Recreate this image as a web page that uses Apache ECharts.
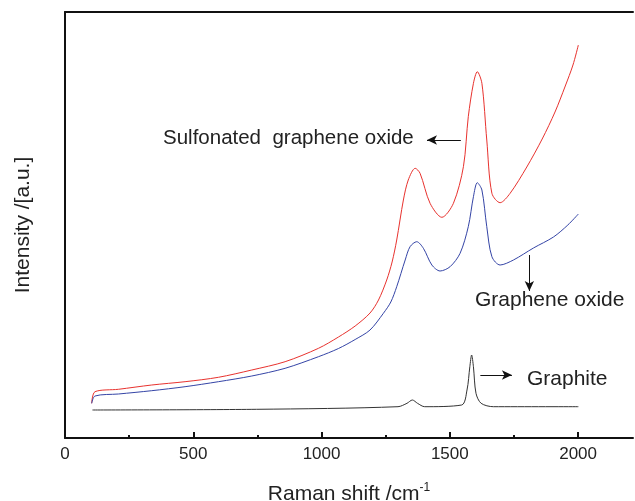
<!DOCTYPE html>
<html>
<head>
<meta charset="utf-8">
<title>Raman spectra</title>
<script src="https://cdn.jsdelivr.net/npm/echarts@6.0.0/dist/echarts.min.js"></script>
<style>
    html, body { margin: 0; padding: 0; background: #fff; }
    #raman_chart { width: 635px; height: 501px; }
</style>
</head>
<body>
<div id="raman_chart"></div>
<script>
// Raman shift (cm-1) and intensity (a.u.)
var sgoShift = [104, 117, 208, 338, 468, 598, 728, 858, 988, 1066, 1131, 1189, 1222, 1254, 1275, 1293, 1319, 1338, 1365, 1384, 1423, 1469, 1514, 1553, 1572, 1592, 1607, 1625, 1644, 1664, 1696, 1735, 1800, 1860, 1910, 1950, 1980, 2001];
var sgoIntensity = [34.7, 46.3, 48.7, 53, 56.3, 60.7, 68, 76.3, 89.7, 101, 112, 125, 138, 158, 176, 198, 238, 258, 269.7, 264.7, 234.7, 220.7, 234.7, 271.3, 321.3, 354.7, 366.3, 354.7, 298, 244.7, 235.3, 244.7, 271, 299, 326, 352, 373, 393];

var goShift = [104, 117, 208, 338, 468, 598, 728, 858, 988, 1066, 1131, 1189, 1241, 1270, 1293, 1326, 1345, 1371, 1397, 1430, 1462, 1501, 1540, 1572, 1592, 1607, 1625, 1644, 1664, 1696, 1748, 1826, 1904, 1960, 2001];
var goIntensity = [34.7, 42, 44, 47.3, 51.3, 56.3, 62, 69.7, 81.3, 89.5, 98.5, 108, 124.7, 136, 151.3, 178, 191.3, 196.3, 189.7, 173, 167, 171.3, 184.7, 211.3, 241.3, 255.3, 248, 211.3, 181.3, 173, 178, 190, 201, 213, 224];

var graphiteShift = [107, 747, 1298, 1333, 1354, 1374, 1402, 1546, 1567, 1578, 1585, 1592, 1602, 1622, 1670, 2001];
var graphiteIntensity = [28, 28.7, 31.3, 34.7, 38, 34.7, 31.3, 33, 48, 71.3, 83, 71.3, 44.7, 34.7, 31.3, 31.3];

var majorTicks = [0, 500, 1000, 1500, 2000];
var minorTicks = [250, 750, 1250, 1750];

function pairs(xs, ys) {
    var out = [];
    for (var i = 0; i < xs.length; i++) {
        out.push([xs[i], ys[i]]);
    }
    return out;
}

// black arrow pointing from the first point to the second
function arrow(from, to) {
    return {
        silent: true,
        symbol: ['none', 'arrow'],
        symbolSize: [7, 10],
        label: {show: false},
        lineStyle: {color: '#111', width: 1, type: 'solid'},
        data: [[{coord: from}, {coord: to}]]
    };
}

var chart = echarts.init(document.getElementById('raman_chart'));
var font = 'Liberation Sans, Arial, sans-serif';
var axisLine = {show: true, lineStyle: {color: '#111', width: 2}};

var option = {
    animation: false,
    backgroundColor: '#fff',
    grid: {left: 65, right: 2, top: 12, bottom: 63, outerBoundsMode: 'none'},
    xAxis: [
        {
            type: 'value', min: 0, max: 2214, position: 'bottom',
            axisLine: axisLine,
            axisTick: {show: true, inside: true, length: 6, customValues: majorTicks,
                lineStyle: {color: '#111', width: 2}},
            axisLabel: {show: true, customValues: majorTicks, margin: 8,
                fontFamily: font, fontSize: 17, color: '#222',
                formatter: function (v) { return String(v); }},
            splitLine: {show: false},
            name: 'Raman shift /cm{sup|-1}',
            nameLocation: 'middle',
            nameGap: 44,
            nameTextStyle: {
                fontFamily: font, fontSize: 21, color: '#222',
                rich: {sup: {fontFamily: font, fontSize: 12, color: '#222', verticalAlign: 'top', padding: [0, 0, 12, 0]}}
            }
        },
        {
            // minor ticks only
            type: 'value', min: 0, max: 2214, position: 'bottom',
            axisLine: {show: false},
            axisTick: {show: true, inside: true, length: 3, customValues: minorTicks,
                lineStyle: {color: '#111', width: 2}},
            axisLabel: {show: false},
            splitLine: {show: false}
        },
        {
            // top frame line
            type: 'value', min: 0, max: 2214, position: 'top',
            axisLine: axisLine,
            axisTick: {show: false},
            axisLabel: {show: false},
            splitLine: {show: false}
        }
    ],
    yAxis: {
        type: 'value', min: 0, max: 426,
        axisLine: axisLine,
        axisTick: {show: false},
        axisLabel: {show: false},
        splitLine: {show: false},
        name: 'Intensity /[a.u.]',
        nameLocation: 'middle',
        nameGap: 31,
        nameTextStyle: {fontFamily: font, fontSize: 21, color: '#222'}
    },
    series: [
        {
            name: 'Sulfonated graphene oxide',
            type: 'line',
            data: pairs(sgoShift, sgoIntensity),
            showSymbol: false,
            smooth: 0.3,
            lineStyle: {color: '#e8322e', width: 1},
            markLine: arrow([1543, 298], [1411, 298])
        },
        {
            name: 'Graphene oxide',
            type: 'line',
            data: pairs(goShift, goIntensity),
            showSymbol: false,
            smooth: 0.3,
            lineStyle: {color: '#3444a6', width: 1},
            markLine: arrow([1810, 183], [1810, 147])
        },
        {
            name: 'Graphite',
            type: 'line',
            data: pairs(graphiteShift, graphiteIntensity),
            showSymbol: false,
            smooth: 0.3,
            lineStyle: {color: '#333', width: 1},
            markLine: arrow([1619, 63], [1742, 63])
        }
    ],
    // annotation texts
    graphic: [
        {type: 'text', left: 163, top: 128, style: {text: 'Sulfonated  graphene oxide', font: '20.5px ' + font, fill: '#222'}},
        {type: 'text', left: 475, top: 290, style: {text: 'Graphene oxide', font: '21px ' + font, fill: '#222'}},
        {type: 'text', left: 527, top: 369, style: {text: 'Graphite', font: '21px ' + font, fill: '#222'}}
    ]
};

chart.setOption(option);
</script>
</body>
</html>
